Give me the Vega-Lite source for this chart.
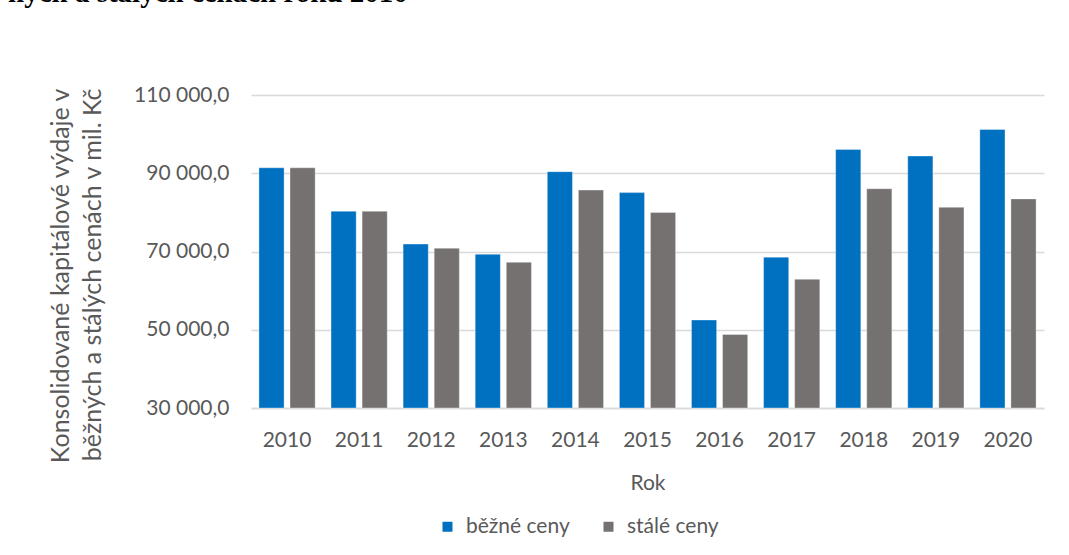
{
  "$schema": "https://vega.github.io/schema/vega-lite/v6.json",
  "autosize": {"type": "none"},
  "width": 793,
  "height": 313,
  "padding": {"left": 251, "top": 95, "right": 25, "bottom": 147},
  "background": "#ffffff",
  "config": {
    "locale": {"number": {"decimal": ",", "thousands": " ", "grouping": [3], "currency": ["", " Kč"]}},
    "view": {"stroke": null},
    "font": "Lato"
  },
  "title": {
    "text": "ných a stálých cenách roku 2010",
    "anchor": "start",
    "frame": "group",
    "orient": "top",
    "font": "Liberation Serif",
    "fontWeight": "bold",
    "fontSize": 29,
    "color": "#000000",
    "dx": -243,
    "offset": 76
  },
  "data": {
    "values": [
      {"rok": "2010", "typ": "běžné ceny", "hodnota": 91400},
      {"rok": "2010", "typ": "stálé ceny", "hodnota": 91400},
      {"rok": "2011", "typ": "běžné ceny", "hodnota": 80300},
      {"rok": "2011", "typ": "stálé ceny", "hodnota": 80300},
      {"rok": "2012", "typ": "běžné ceny", "hodnota": 71900},
      {"rok": "2012", "typ": "stálé ceny", "hodnota": 70850},
      {"rok": "2013", "typ": "běžné ceny", "hodnota": 69300},
      {"rok": "2013", "typ": "stálé ceny", "hodnota": 67250},
      {"rok": "2014", "typ": "běžné ceny", "hodnota": 90400},
      {"rok": "2014", "typ": "stálé ceny", "hodnota": 85700},
      {"rok": "2015", "typ": "běžné ceny", "hodnota": 85050},
      {"rok": "2015", "typ": "stálé ceny", "hodnota": 80000},
      {"rok": "2016", "typ": "běžné ceny", "hodnota": 52500},
      {"rok": "2016", "typ": "stálé ceny", "hodnota": 48800},
      {"rok": "2017", "typ": "běžné ceny", "hodnota": 68550},
      {"rok": "2017", "typ": "stálé ceny", "hodnota": 62900},
      {"rok": "2018", "typ": "běžné ceny", "hodnota": 96100},
      {"rok": "2018", "typ": "stálé ceny", "hodnota": 86050},
      {"rok": "2019", "typ": "běžné ceny", "hodnota": 94400},
      {"rok": "2019", "typ": "stálé ceny", "hodnota": 81300},
      {"rok": "2020", "typ": "běžné ceny", "hodnota": 101200},
      {"rok": "2020", "typ": "stálé ceny", "hodnota": 83450}
    ]
  },
  "mark": {"type": "bar", "stroke": "#ffffff", "strokeWidth": 0.6, "strokeOpacity": 0.6},
  "encoding": {
    "x": {
      "field": "rok",
      "type": "nominal",
      "sort": null,
      "scale": {"paddingInner": 0.22, "paddingOuter": 0.11},
      "axis": {
        "title": "Rok",
        "labelAngle": 0,
        "labelFontSize": 21,
        "labelColor": "#595959",
        "labelPadding": 21,
        "ticks": false,
        "domainColor": "#d9d9d9",
        "domainWidth": 1.5,
        "titleFontSize": 21,
        "titleFontWeight": "normal",
        "titleColor": "#595959",
        "titleBaseline": "alphabetic",
        "titleY": 81
      }
    },
    "xOffset": {
      "field": "typ",
      "type": "nominal",
      "sort": ["běžné ceny", "stálé ceny"],
      "scale": {"paddingInner": 0.19, "paddingOuter": 0}
    },
    "y": {
      "field": "hodnota",
      "type": "quantitative",
      "scale": {"domain": [30000, 110000], "nice": false, "zero": false},
      "axis": {
        "values": [30000, 50000, 70000, 90000, 110000],
        "format": ",.1f",
        "labelFontSize": 21,
        "labelColor": "#595959",
        "labelPadding": 22,
        "ticks": false,
        "domain": false,
        "gridColor": "#d9d9d9",
        "gridWidth": 1.3,
        "title": ["Konsolidované kapitálové výdaje v", "běžných a stálých cenách v mil. Kč"],
        "titleFontSize": 25,
        "titleFontWeight": "normal",
        "titleColor": "#595959",
        "titleAngle": -90,
        "titleAlign": "right",
        "titleBaseline": "alphabetic",
        "titleLineHeight": 32,
        "titleX": -183,
        "titleY": -7
      }
    },
    "y2": {"datum": 30000},
    "color": {
      "field": "typ",
      "type": "nominal",
      "sort": ["běžné ceny", "stálé ceny"],
      "scale": {"domain": ["běžné ceny", "stálé ceny"], "range": ["#0070C0", "#767171"]},
      "legend": {
        "title": null,
        "orient": "none",
        "direction": "horizontal",
        "legendX": 186,
        "legendY": 421,
        "symbolType": "square",
        "symbolSize": 100,
        "symbolStrokeWidth": 0,
        "labelFontSize": 21,
        "labelColor": "#595959",
        "labelOffset": 8,
        "columnPadding": 28
      }
    }
  }
}
